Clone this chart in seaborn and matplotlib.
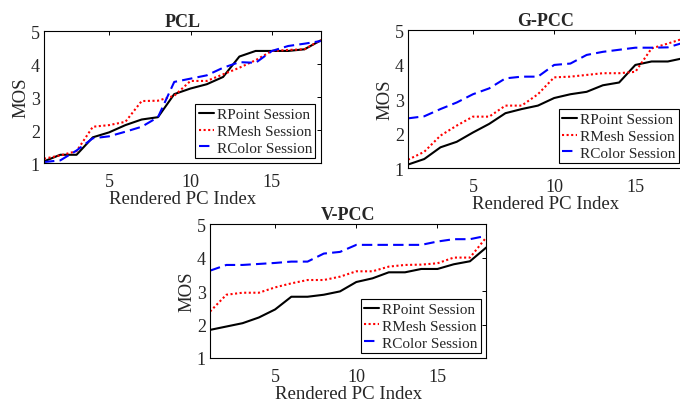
import matplotlib
matplotlib.use('Agg')
import matplotlib.pyplot as plt
import numpy as np
import pandas as pd
import seaborn as sns

# rendered point cloud index 1..18
pc_index = list(range(1, 19))
sessions = ['RPoint Session', 'RMesh Session', 'RColor Session']

pcl_point = [1.05, 1.25, 1.25, 1.78, 1.93, 2.15, 2.32, 2.39, 3.09, 3.26, 3.39, 3.61, 4.23, 4.40, 4.40, 4.40, 4.45, 4.72]
pcl_mesh = [1.13, 1.23, 1.36, 2.10, 2.15, 2.25, 2.88, 2.89, 3.04, 3.49, 3.49, 3.69, 3.89, 4.12, 4.40, 4.43, 4.45, 4.73]
pcl_color = [1.03, 1.08, 1.38, 1.75, 1.81, 1.95, 2.10, 2.39, 3.46, 3.56, 3.66, 3.89, 4.06, 4.04, 4.40, 4.55, 4.62, 4.70]

gpcc_point = [1.10, 1.26, 1.60, 1.76, 2.03, 2.28, 2.59, 2.71, 2.81, 3.03, 3.14, 3.21, 3.40, 3.48, 3.99, 4.09, 4.09, 4.19]
gpcc_mesh = [1.24, 1.47, 1.94, 2.23, 2.49, 2.49, 2.81, 2.81, 3.14, 3.63, 3.65, 3.70, 3.75, 3.75, 3.79, 4.47, 4.61, 4.76]
gpcc_color = [2.44, 2.50, 2.71, 2.90, 3.14, 3.31, 3.60, 3.65, 3.65, 3.99, 4.03, 4.28, 4.37, 4.43, 4.49, 4.49, 4.50, 4.64]

vpcc_point = [1.84, 1.94, 2.04, 2.21, 2.45, 2.83, 2.83, 2.89, 2.99, 3.27, 3.38, 3.56, 3.56, 3.66, 3.66, 3.80, 3.89, 4.30]
vpcc_mesh = [2.39, 2.89, 2.95, 2.95, 3.11, 3.23, 3.33, 3.33, 3.43, 3.59, 3.59, 3.73, 3.78, 3.79, 3.83, 4.00, 4.00, 4.60]
vpcc_color = [3.61, 3.78, 3.78, 3.81, 3.84, 3.88, 3.88, 4.12, 4.17, 4.38, 4.38, 4.38, 4.38, 4.38, 4.48, 4.55, 4.55, 4.65]

panels = [
    ('PCL', [pcl_point, pcl_mesh, pcl_color], [0.0647, 0.592, 0.407, 0.328]),
    ('G-PCC', [gpcc_point, gpcc_mesh, gpcc_color], [0.600, 0.5796, 0.406, 0.343]),
    ('V-PCC', [vpcc_point, vpcc_mesh, vpcc_color], [0.309, 0.107, 0.406, 0.333]),
]

sns.set_style('white')
plt.rcParams['font.family'] = ['Liberation Serif', 'DejaVu Serif']

palette = {'RPoint Session': 'black', 'RMesh Session': '#ff0000', 'RColor Session': '#0000ff'}
dashes = {'RPoint Session': '', 'RMesh Session': (1, 1.2), 'RColor Session': (5, 2.5)}
txt_col = '#262626'

fig = plt.figure(figsize=(6.8, 4.02), dpi=100)

for title, series, pos in panels:
    ax = fig.add_axes(pos)
    rows = []
    for name, vals in zip(sessions, series):
        for i, v in zip(pc_index, vals):
            rows.append({'idx': i, 'mos': v, 'session': name})
    df = pd.DataFrame(rows)
    sns.lineplot(data=df, x='idx', y='mos', hue='session', style='session',
                 palette=palette, dashes=dashes, hue_order=sessions, style_order=sessions,
                 linewidth=1.5, ax=ax)
    ax.set_xlim(1, 18)
    ax.set_ylim(1, 5)
    ax.set_xticks([5, 10, 15])
    ax.set_yticks([1, 2, 3, 4, 5])
    ax.tick_params(direction='in', length=3, width=0.7, top=True, right=True,
                   labelsize=13, labelcolor=txt_col, color='black')
    ax.tick_params(axis='x', pad=7)
    ax.tick_params(axis='y', pad=3)
    for s in ax.spines.values():
        s.set_color('black')
        s.set_linewidth(0.8)
    ax.set_xlabel('Rendered PC Index', fontsize=13.5, color=txt_col, labelpad=0)
    ax.set_ylabel('MOS', fontsize=13.5, color=txt_col, labelpad=1)
    ax.set_title(title, fontsize=13, fontweight='bold', pad=4)
    h, l = ax.get_legend_handles_labels()
    leg = ax.legend(h, l, loc='lower right', fontsize=11, frameon=True, fancybox=False,
                    edgecolor='black', framealpha=1, borderpad=0.2, labelspacing=0.2,
                    handlelength=1.0, handletextpad=0.2, borderaxespad=0.35)
    leg.get_frame().set_linewidth(0.8)
    for t in leg.get_texts():
        t.set_color(txt_col)

fig.savefig('out.png', dpi=100)
